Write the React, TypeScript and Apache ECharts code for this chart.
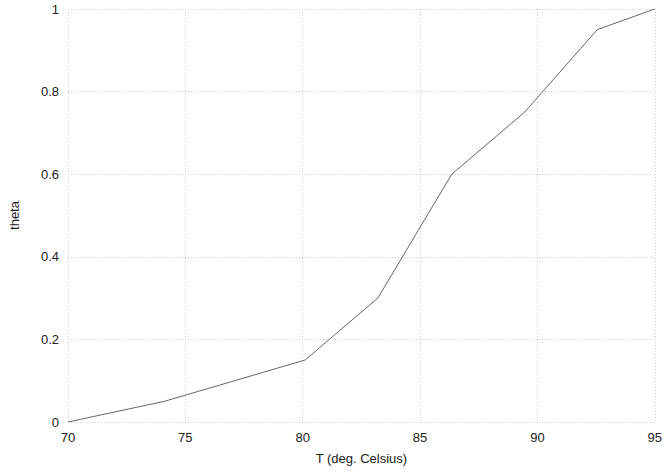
import React, { useEffect, useRef } from "react";
import * as echarts from "echarts";

const temperatures = [70, 74.1, 80.1, 83.2, 86.35, 89.45, 92.55, 95];
const theta = [0, 0.05, 0.15, 0.3, 0.6, 0.75, 0.95, 1];
const xTicks = [70, 75, 80, 85, 90, 95];
const yTicks = [0, 0.2, 0.4, 0.6, 0.8, 1];

export default function App() {
  const ref = useRef<HTMLDivElement>(null);
  useEffect(() => {
    if (!ref.current) return;
    const chart = echarts.init(ref.current, null, { renderer: "svg" });
    const font = "Liberation Sans, Arial, Helvetica, sans-serif";
    chart.setOption({
      animation: false,
      backgroundColor: "#ffffff",
      grid: { left: 67, right: 8, top: 9, bottom: 52, containLabel: false },
      xAxis: {
        type: "value",
        min: xTicks[0],
        max: xTicks[xTicks.length - 1],
        interval: 5,
        name: "T (deg. Celsius)",
        nameLocation: "middle",
        nameGap: 30,
        nameTextStyle: { color: "#222", fontSize: 13, fontFamily: font },
        axisLine: { show: false },
        axisTick: { show: false },
        axisLabel: { color: "#222", fontSize: 13, fontFamily: font, margin: 9 },
        splitLine: { show: true, lineStyle: { color: "#cccccc", type: [1, 2], width: 1 } },
      },
      yAxis: {
        type: "value",
        min: yTicks[0],
        max: yTicks[yTicks.length - 1],
        interval: 0.2,
        name: "theta",
        nameLocation: "middle",
        nameGap: 47,
        nameTextStyle: { color: "#222", fontSize: 13, fontFamily: font },
        axisLine: { show: false },
        axisTick: { show: false },
        axisLabel: { color: "#222", fontSize: 13, fontFamily: font, margin: 9 },
        splitLine: { show: true, lineStyle: { color: "#cccccc", type: [1, 2], width: 1 } },
      },
      series: [
        {
          type: "line",
          data: temperatures.map((t, i) => [t, theta[i]]),
          showSymbol: false,
          symbol: "none",
          lineStyle: { color: "#666666", width: 1 },
        },
      ],
    });
    return () => chart.dispose();
  }, []);
  return (
    <div
      ref={ref}
      style={{ position: "fixed", left: 0, top: 0, width: 665, height: 474 }}
    />
  );
}
